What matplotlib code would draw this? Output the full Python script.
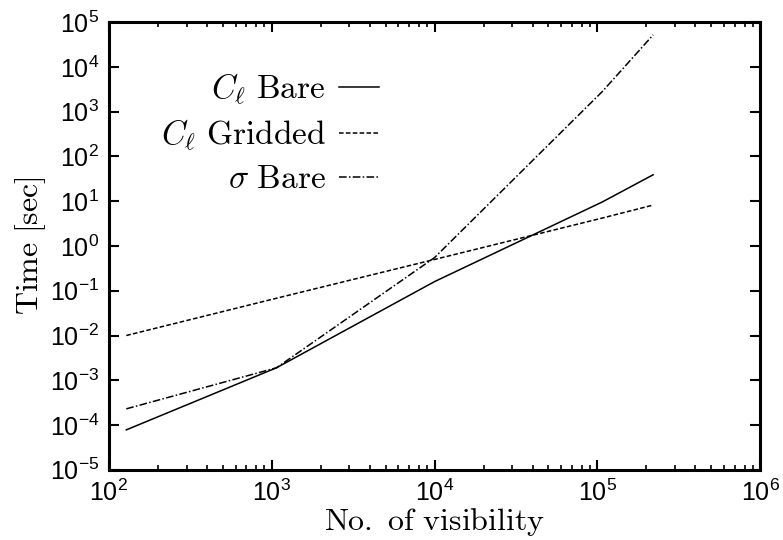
import matplotlib
matplotlib.use("Agg")
import matplotlib.pyplot as plt
import matplotlib.ticker as mticker

plt.rcParams['font.family'] = ['Liberation Sans', 'DejaVu Sans']
plt.rcParams['mathtext.fontset'] = 'cm'

# data
n_vis = [128, 1070, 10000, 107000, 220000]
cl_bare = [7.8e-5, 1.9e-3, 0.16, 9.6, 39]
cl_gridded = [0.01, 0.068, 0.5, 4.2, 8.2]
sigma_bare = [2.3e-4, 1.9e-3, 0.55, 2.8e3, 5.2e4]

labels = [r'$C_\ell\ \mathrm{Bare}$', r'$C_\ell\ \mathrm{Gridded}$', r'$\sigma\ \mathrm{Bare}$']

fig = plt.figure(figsize=(7.83, 5.40), dpi=100)
ax = fig.add_axes([0.139, 0.130, 0.832, 0.829])

ax.plot(n_vis, cl_bare, color='black', lw=1.1, ls='-', label=labels[0])
ax.plot(n_vis, cl_gridded, color='black', lw=1.1, ls=(0, (3, 1.5)), label=labels[1])
ax.plot(n_vis, sigma_bare, color='black', lw=1.1, ls=(0, (5, 1.5, 1, 1.5)), label=labels[2])

ax.set_xscale('log')
ax.set_yscale('log')
ax.set_xlim(1e2, 1e6)
ax.set_ylim(1e-5, 1e5)

ax.xaxis.set_major_locator(mticker.LogLocator(base=10, numticks=10))
ax.xaxis.set_minor_locator(mticker.LogLocator(base=10, subs=range(2, 10), numticks=20))
ax.yaxis.set_major_locator(mticker.LogLocator(base=10, numticks=20))
ax.yaxis.set_minor_locator(mticker.NullLocator())

for s in ax.spines.values():
    s.set_linewidth(2.2)

ax.tick_params(which='major', direction='in', length=7, width=1.5, top=True, right=True,
               labelsize=18, pad=7)
ax.tick_params(which='minor', direction='in', length=3.5, width=1.2, top=True, right=True)

ax.set_xlabel(r'$\mathrm{No.\ of\ visibility}$', fontsize=23, labelpad=0)
ax.set_ylabel(r'$\mathrm{Time\ [sec]}$', fontsize=23, labelpad=1)

ax.legend(loc='center right', bbox_to_anchor=(0.415, 0.752), frameon=False,
          markerfirst=False, fontsize=24, handlelength=1.2, handletextpad=0.4,
          labelspacing=0.33, borderpad=0, borderaxespad=0)

fig.savefig('out.png', dpi=100)
